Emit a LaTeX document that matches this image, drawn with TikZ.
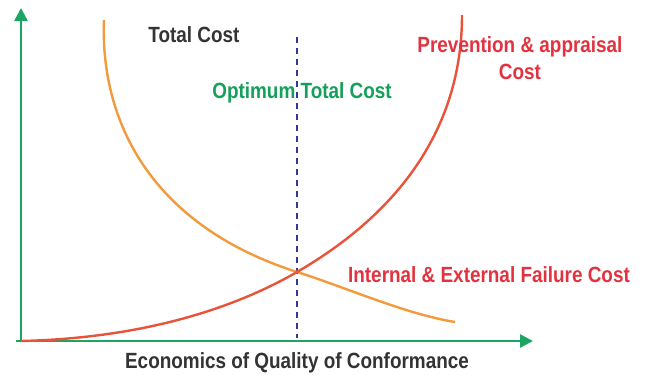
\documentclass[tikz,border=0pt]{standalone}
\usepackage{fontspec}
\setmainfont{Liberation Sans}[FakeStretch=0.86]
\usetikzlibrary{arrows.meta}
\definecolor{axisgreen}{HTML}{1BA462}
\definecolor{curveorange}{HTML}{F39A3C}
\definecolor{curvered}{HTML}{E8533A}
\definecolor{labelred}{HTML}{E3323F}
\definecolor{labelgreen}{HTML}{14A05A}
\definecolor{labeldark}{HTML}{333333}
\definecolor{dotblue}{HTML}{38388F}
\tikzset{
  axis/.style={draw=axisgreen, line width=2.6pt, -{Triangle[length=13pt,width=13pt]}},
  curve/.style={line width=2.4pt},
  lbl/.style={font=\bfseries\fontsize{22}{27}\selectfont, inner sep=0pt, align=center},
}
\begin{document}
\begin{tikzpicture}[x=1pt,y=-1pt]
\useasboundingbox (0,0) rectangle (646,375);
\coordinate (o) at (21,341);
\coordinate (ytop) at (21,8);
\coordinate (xstart) at (16,341);
\coordinate (xend) at (533,341);
\draw[axis] (o) -- (ytop);
\draw[axis] (xstart) -- (xend);
% optimum line
\coordinate (opttop) at (297,37);
\coordinate (optbot) at (297,338);
\draw[dotblue, line width=2.6pt, dash pattern=on 6pt off 5pt] (opttop) -- (optbot);
% crossing point and curve ends
\coordinate (cross) at (297,272);
\coordinate (otop) at (104,20);
\coordinate (oend) at (455,322);
\coordinate (rtop) at (462,15);
% total / failure cost (orange)
\draw[curve, curveorange] (otop) .. controls (100,120) and (150,225) .. (cross)
  .. controls (345,287) and (405,314) .. (oend);
% prevention & appraisal (red)
\draw[curve, curvered] (o) .. controls (150,338) and (240,305) .. (cross)
  .. controls (397,214) and (462,130) .. (rtop);
\node[lbl, text=labeldark] (tc) at (194,35) {Total Cost};
\node[lbl, text=labelgreen] (otc) at (302,93) {Optimum Total Cost};
\node[lbl, text=labelred] (pac) at (520,58) {Prevention \& appraisal\\Cost};
\node[lbl, text=labelred] (ief) at (489,275) {Internal \& External Failure Cost};
\node[lbl, text=labeldark] (eq) at (297,363) {Economics of Quality of Conformance};
\end{tikzpicture}
\end{document}
